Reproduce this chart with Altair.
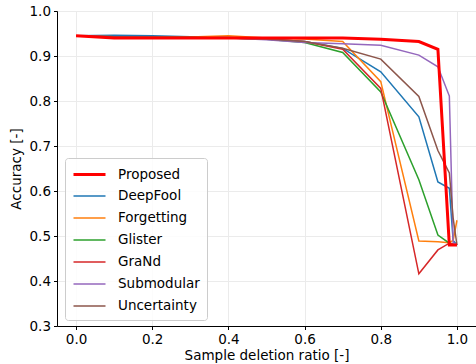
import altair as alt
import pandas as pd

# Sample deletion ratios at which accuracy was evaluated
ratios = [0.0, 0.1, 0.2, 0.3, 0.4, 0.5, 0.6, 0.7, 0.8, 0.9, 0.95, 0.98, 0.99, 1.0]

methods = ["Proposed", "DeepFool", "Forgetting", "Glister", "GraNd", "Submodular", "Uncertainty"]
colors = ["#ff0000", "#1f77b4", "#ff7f0e", "#2ca02c", "#d62728", "#9467bd", "#8c564b"]
widths = [3.0, 1.5, 1.5, 1.5, 1.5, 1.5, 1.5]

proposed = [0.945, 0.940, 0.940, 0.940, 0.940, 0.940, 0.940, 0.940, 0.937, 0.932, 0.915, 0.480, 0.480, 0.480]
deepfool = [0.945, 0.946, 0.945, 0.943, 0.942, 0.938, 0.932, 0.917, 0.865, 0.765, 0.620, 0.606, 0.490, 0.480]
forgetting = [0.945, 0.943, 0.942, 0.942, 0.945, 0.940, 0.938, 0.932, 0.843, 0.489, 0.487, 0.485, 0.490, 0.535]
glister = [0.945, 0.943, 0.942, 0.941, 0.940, 0.937, 0.930, 0.908, 0.820, 0.625, 0.502, 0.484, 0.482, 0.480]
grand = [0.945, 0.942, 0.941, 0.941, 0.940, 0.938, 0.932, 0.915, 0.828, 0.416, 0.469, 0.484, 0.482, 0.480]
submodular = [0.945, 0.943, 0.941, 0.940, 0.940, 0.936, 0.930, 0.927, 0.924, 0.902, 0.876, 0.811, 0.485, 0.480]
uncertainty = [0.945, 0.943, 0.942, 0.941, 0.940, 0.938, 0.932, 0.917, 0.893, 0.810, 0.690, 0.640, 0.540, 0.480]

series = [proposed, deepfool, forgetting, glister, grand, submodular, uncertainty]

rows = []
for name, vals in zip(methods, series):
    for r, v in zip(ratios, vals):
        rows.append({"ratio": r, "accuracy": v, "method": name})
df = pd.DataFrame(rows)

FONT = "DejaVu Sans"
FS = 13.5

x_enc = alt.X(
    "ratio:Q",
    scale=alt.Scale(domain=[-0.05, 1.05], nice=False, zero=False),
    axis=alt.Axis(
        title="Sample deletion ratio [-]",
        values=[0.0, 0.2, 0.4, 0.6, 0.8, 1.0],
        format=".1f",
        tickSize=3.5,
        labelPadding=3,
        titlePadding=2,
    ),
)
y_enc = alt.Y(
    "accuracy:Q",
    scale=alt.Scale(domain=[0.3, 1.0], nice=False, zero=False),
    axis=alt.Axis(
        title="Accuracy [-]",
        values=[0.3, 0.4, 0.5, 0.6, 0.7, 0.8, 0.9, 1.0],
        format=".1f",
        tickSize=3.5,
        labelPadding=3,
        titlePadding=6,
    ),
)
legend = alt.Legend(title=None, orient="none", legendX=8, legendY=147)
color_enc = alt.Color(
    "method:N",
    scale=alt.Scale(domain=methods, range=colors),
    legend=legend,
)
width_enc = alt.StrokeWidth(
    "method:N",
    scale=alt.Scale(type="ordinal", domain=methods, range=widths),
    legend=legend,
)

base = alt.Chart(df).mark_line().encode(
    x=x_enc, y=y_enc, color=color_enc, strokeWidth=width_enc
)

others = base.transform_filter(alt.datum.method != "Proposed")
top = base.transform_filter(alt.datum.method == "Proposed")

chart = (
    alt.layer(others, top)
    .properties(
        width=419,
        height=315,
        autosize=alt.AutoSizeParams(type="none"),
        padding={"left": 57, "top": 11, "right": 0, "bottom": 38},
    )
    .configure_view(stroke=None)
    .configure_axis(
        labelFont=FONT,
        titleFont=FONT,
        labelFontSize=FS,
        titleFontSize=FS,
        titleFontWeight="normal",
        labelColor="#000000",
        titleColor="#000000",
        domainColor="#000000",
        tickColor="#000000",
        gridColor="#ebebeb",
        gridWidth=1,
        domainWidth=1,
    )
    .configure_legend(
        labelFont=FONT,
        labelFontSize=FS,
        labelColor="#000000",
        # horizontal line symbol, 32 px long, drawn from the left edge of the symbol slot
        symbolType="M-1,0H3",
        symbolSize=256,
        labelOffset=27,
        rowPadding=6,
        padding=7,
        strokeColor="#cccccc",
        fillColor="rgba(255,255,255,0.85)",
        cornerRadius=3,
        labelLimit=200,
    )
)

chart.save("out.html", embed_options={"renderer": "svg", "actions": False})
